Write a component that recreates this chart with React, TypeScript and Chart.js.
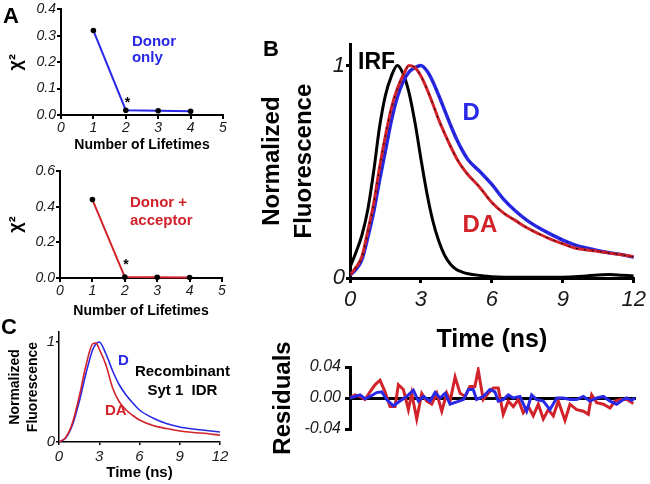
import React, { useEffect, useRef } from 'react';
import { Chart, registerables } from 'chart.js';

Chart.register(...registerables);

// ---------------- DATA ----------------
// Panel A
const lifetimes = [1, 2, 3, 4];
const chiDonorOnly = [0.32, 0.018, 0.016, 0.014];
const chiDonorAcceptor = [0.44, 0.005, 0.004, 0.003];
const chiTopTicks = [0, 0.1, 0.2, 0.3, 0.4];
const chiBottomTicks = [0, 0.2, 0.4, 0.6];

// Panel B (decay curves)
const bTime = [0, 0.25, 0.5, 0.75, 1, 1.25, 1.5, 1.75, 2, 2.25, 2.5, 2.75, 3, 3.25, 3.5, 3.75, 4, 4.25, 4.5, 4.75, 5, 5.5, 6, 6.5, 7, 7.5, 8, 8.5, 9, 9.5, 10, 10.5, 11, 11.5, 12];
const bIRF = [0.05, 0.12, 0.2, 0.32, 0.5, 0.71, 0.86, 0.95, 1.0, 0.96, 0.87, 0.73, 0.56, 0.4, 0.27, 0.175, 0.107, 0.065, 0.04, 0.028, 0.02, 0.012, 0.006, 0.004, 0.004, 0.004, 0.003, 0.003, 0.004, 0.006, 0.01, 0.014, 0.016, 0.013, 0.01];
const bDonor = [0.014, 0.04, 0.085, 0.19, 0.31, 0.46, 0.6, 0.74, 0.85, 0.925, 0.97, 0.99, 1.0, 0.975, 0.925, 0.86, 0.79, 0.72, 0.655, 0.6, 0.555, 0.5, 0.44, 0.37, 0.315, 0.27, 0.235, 0.205, 0.178, 0.156, 0.141, 0.128, 0.118, 0.11, 0.097];
const bDonorAcceptor = [0.014, 0.05, 0.1, 0.22, 0.35, 0.52, 0.67, 0.8, 0.89, 0.955, 1.0, 0.99, 0.95, 0.89, 0.82, 0.745, 0.68, 0.62, 0.565, 0.52, 0.485, 0.425, 0.355, 0.305, 0.27, 0.235, 0.207, 0.182, 0.161, 0.141, 0.132, 0.125, 0.117, 0.109, 0.1];
const timeTicks = [0, 3, 6, 9, 12];
const normTicks = [0, 1];

// Panel B (residuals)
const resDATime = [0, 0.21, 0.42, 0.63, 0.84, 1.05, 1.26, 1.47, 1.68, 1.89, 2.03, 2.24, 2.45, 2.59, 2.8, 3.01, 3.22, 3.43, 3.64, 3.85, 4.06, 4.2, 4.41, 4.62, 4.83, 5.03, 5.24, 5.38, 5.59, 5.8, 6.01, 6.22, 6.43, 6.64, 6.85, 7.06, 7.27, 7.48, 7.69, 7.9, 8.11, 8.32, 8.53, 8.74, 9.02, 9.23, 9.51, 9.79, 10.0, 10.14, 10.35, 10.63, 10.91, 11.12, 11.33, 11.61, 11.89];
const resDAValues = [0, 0.004, 0.002, -0.002, 0.008, 0.017, 0.023, 0.008, -0.011, -0.011, 0.017, 0.011, -0.015, 0.006, -0.027, 0.006, -0.004, -0.008, 0.006, -0.017, 0.006, -0.004, 0.027, 0.006, 0.002, 0.015, 0.015, 0.036, -0.002, 0.006, 0.013, 0.013, -0.021, -0.004, -0.011, -0.002, -0.019, -0.011, -0.023, -0.008, -0.027, -0.015, -0.023, -0.004, -0.029, -0.008, -0.015, -0.017, -0.021, 0.004, -0.006, -0.008, -0.013, -0.004, -0.002, -0.002, -0.007];
const resDTime = [0, 0.21, 0.42, 0.63, 0.84, 1.12, 1.33, 1.54, 1.82, 2.1, 2.38, 2.66, 2.87, 3.08, 3.36, 3.57, 3.78, 3.99, 4.2, 4.48, 4.76, 4.97, 5.17, 5.31, 5.59, 5.87, 6.08, 6.22, 6.43, 6.64, 6.85, 7.13, 7.41, 7.62, 7.83, 8.11, 8.39, 8.67, 8.95, 9.23, 9.51, 9.79, 10.07, 10.35, 10.63, 10.91, 11.19, 11.47, 11.61, 11.82, 11.96];
const resDValues = [0, 0.002, 0.004, -0.001, 0.002, 0.007, 0.008, -0.002, -0.01, -0.004, 0.002, 0.01, -0.004, 0.002, -0.004, 0.007, 0, 0.006, -0.008, -0.005, -0.002, 0.011, 0.011, -0.002, 0.002, 0.011, 0.008, -0.004, -0.002, 0.004, 0, 0.002, -0.017, 0.004, -0.002, -0.004, -0.015, 0, 0, -0.002, -0.002, 0.002, -0.004, 0, 0.002, -0.004, -0.008, -0.002, 0, -0.003, 0];
const residualTicks = [-0.04, 0, 0.04];

// Panel C
const cTime = [0, 0.5, 1, 1.5, 2, 2.5, 2.75, 3, 3.5, 4, 4.5, 5, 5.5, 6, 7, 8, 9, 10, 11, 12];
const cDonor = [0, 0.04, 0.17, 0.4, 0.68, 0.92, 0.98, 1.0, 0.88, 0.71, 0.57, 0.47, 0.39, 0.32, 0.24, 0.185, 0.15, 0.13, 0.115, 0.1];
const cDonorAcceptor = [0, 0.045, 0.19, 0.45, 0.76, 0.98, 0.99, 0.93, 0.77, 0.54, 0.4, 0.32, 0.265, 0.22, 0.165, 0.135, 0.11, 0.095, 0.085, 0.068];

// ---------------- STYLE ----------------
const FONT = "'Liberation Sans', Arial, Helvetica, sans-serif";
const BLUE = '#2828e6';
const RED = '#d2222a';
const TICK_COLOR = '#1a1a1a';

const pts = (xs: number[], ys: number[]) => xs.map((x, i) => ({ x, y: ys[i] }));

type Label = { text: string; x: number; y: number; color: string; size: number; align?: CanvasTextAlign };

// Annotation anchors (data coordinates)
const aTopLabels: Label[] = [
  { text: 'Donor', x: 2.19, y: 0.278, color: BLUE, size: 15 },
  { text: 'only', x: 2.19, y: 0.218, color: BLUE, size: 15 },
  { text: '*', x: 2.05, y: 0.046, color: '#000', size: 14, align: 'center' },
];
const aBottomLabels: Label[] = [
  { text: 'Donor +', x: 2.16, y: 0.42, color: RED, size: 15 },
  { text: 'acceptor', x: 2.16, y: 0.32, color: RED, size: 15 },
  { text: '*', x: 2.04, y: 0.07, color: '#000', size: 14, align: 'center' },
];
const cLabels: Label[] = [
  { text: 'D', x: 4.4, y: 0.816, color: BLUE, size: 15 },
  { text: 'DA', x: 3.43, y: 0.31, color: RED, size: 15 },
  { text: 'Recombinant', x: 9.2, y: 0.7, color: '#000', size: 15, align: 'center' },
  { text: 'Syt 1  IDR', x: 9.2, y: 0.51, color: '#000', size: 15, align: 'center' },
];
const bLabels: Label[] = [
  { text: 'IRF', x: 0.34, y: 1.014, color: '#000', size: 23 },
  { text: 'D', x: 4.76, y: 0.773, color: BLUE, size: 24 },
  { text: 'DA', x: 4.76, y: 0.248, color: RED, size: 24 },
];

function labelPlugin(items: Label[]) {
  return {
    id: 'textLabels',
    afterDatasetsDraw(chart: any) {
      const { ctx } = chart;
      const xs = chart.scales.x;
      const ys = chart.scales.y;
      items.forEach((it) => {
        ctx.save();
        ctx.font = `bold ${it.size}px ${FONT}`;
        ctx.fillStyle = it.color;
        ctx.textAlign = it.align || 'left';
        ctx.textBaseline = 'middle';
        ctx.fillText(it.text, xs.getPixelForValue(it.x), ys.getPixelForValue(it.y));
        ctx.restore();
      });
    },
  };
}

function makeAxis(o: any) {
  return {
    type: 'linear',
    display: o.display === undefined ? true : o.display,
    min: o.min,
    max: o.max,
    afterFit: (s: any) => {
      if (s.isHorizontal()) s.height = o.size;
      else s.width = o.size;
    },
    afterBuildTicks: (s: any) => {
      if (o.tickValues) s.ticks = o.tickValues.map((v: number) => ({ value: v }));
    },
    ticks: {
      autoSkip: false,
      maxRotation: 0,
      font: { family: FONT, size: o.tickSize, style: 'italic' },
      color: TICK_COLOR,
      padding: o.tickPad,
      callback: (v: number) => (o.fmt ? o.fmt(v) : String(v)),
    },
    grid: {
      drawOnChartArea: !!o.zeroLine,
      color: o.zeroLine
        ? (c: any) => (c.tick && Math.abs(c.tick.value) < 1e-9 ? '#000' : 'rgba(0,0,0,0)')
        : '#000',
      lineWidth: o.zeroLine ? o.zeroLine : o.lw,
      tickColor: '#000',
      tickLength: o.tickLen,
      tickWidth: o.lw,
    },
    border: { color: '#000', width: o.lw },
    title: o.title
      ? {
          display: true,
          text: o.title,
          color: '#000',
          font: { family: FONT, size: o.titleSize, weight: 'bold', lineHeight: o.titleLH || 1.2 },
          padding: o.titlePad,
        }
      : { display: false },
  };
}

function baseOptions(padding: any, x: any, y: any) {
  return {
    responsive: false,
    maintainAspectRatio: false,
    animation: false,
    layout: { padding },
    plugins: { legend: { display: false }, tooltip: { enabled: false } },
    scales: { x, y },
  };
}

const fixed1 = (v: number) => v.toFixed(1);
const fixed2 = (v: number) => v.toFixed(2);

function configATop() {
  return {
    type: 'line',
    data: {
      datasets: [
        {
          data: pts(lifetimes, chiDonorOnly),
          borderColor: BLUE,
          borderWidth: 2,
          pointRadius: 2.8,
          pointBackgroundColor: '#000',
          pointBorderColor: '#000',
          pointBorderWidth: 0,
          clip: false,
        },
      ],
    },
    options: baseOptions(
      { top: 7, right: 27, left: 0, bottom: 0 },
      makeAxis({ min: 0, max: 5, size: 40, tickValues: [0, 1, 2, 3, 4, 5], tickSize: 14, tickPad: 1, tickLen: 4, lw: 2, title: 'Number of Lifetimes', titleSize: 14, titlePad: { top: 0, bottom: 1 } }),
      makeAxis({ min: 0, max: 0.4, size: 61, tickValues: chiTopTicks, fmt: fixed1, tickSize: 14, tickPad: 1, tickLen: 4, lw: 2, title: 'χ²', titleSize: 18, titlePad: { top: 5, bottom: 0 } })
    ),
    plugins: [labelPlugin(aTopLabels)],
  };
}

function configABottom() {
  return {
    type: 'line',
    data: {
      datasets: [
        {
          data: pts(lifetimes, chiDonorAcceptor),
          borderColor: RED,
          borderWidth: 2,
          pointRadius: 2.8,
          pointBackgroundColor: '#000',
          pointBorderColor: '#000',
          pointBorderWidth: 0,
          clip: false,
        },
      ],
    },
    options: baseOptions(
      { top: 16, right: 28, left: 0, bottom: 0 },
      makeAxis({ min: 0, max: 5, size: 42, tickValues: [0, 1, 2, 3, 4, 5], tickSize: 14, tickPad: 1, tickLen: 4, lw: 2, title: 'Number of Lifetimes', titleSize: 14, titlePad: { top: 0, bottom: 0 } }),
      makeAxis({ min: 0, max: 0.6, size: 60, tickValues: chiBottomTicks, fmt: fixed1, tickSize: 14, tickPad: 1, tickLen: 4, lw: 2, title: 'χ²', titleSize: 18, titlePad: { top: 5, bottom: 0 } })
    ),
    plugins: [labelPlugin(aBottomLabels)],
  };
}

function configC() {
  return {
    type: 'line',
    data: {
      datasets: [
        { data: pts(cTime, cDonorAcceptor), borderColor: RED, borderWidth: 1.6, pointRadius: 0, cubicInterpolationMode: 'monotone' },
        { data: pts(cTime, cDonor), borderColor: BLUE, borderWidth: 1.6, pointRadius: 0, cubicInterpolationMode: 'monotone' },
      ],
    },
    options: baseOptions(
      { top: 12, right: 30, left: 0, bottom: 0 },
      makeAxis({ min: 0, max: 12, size: 42, tickValues: timeTicks, tickSize: 15, tickPad: 3, tickLen: 3, lw: 1.5, title: 'Time (ns)', titleSize: 15, titlePad: { top: 0, bottom: 2 } }),
      makeAxis({ min: 0, max: 1.1, size: 59, tickValues: normTicks, tickSize: 15, tickPad: 1, tickLen: 3, lw: 1.5, title: ['Normalized', 'Fluorescence'], titleSize: 14, titleLH: 1.28, titlePad: { top: 6, bottom: 0 } })
    ),
    plugins: [labelPlugin(cLabels)],
  };
}

function configB() {
  return {
    type: 'line',
    data: {
      datasets: [
        { data: pts(bTime, bDonorAcceptor), borderColor: '#000', borderWidth: 1, borderDash: [2, 6], pointRadius: 0, cubicInterpolationMode: 'monotone' },
        { data: pts(bTime, bDonor), borderColor: 'rgba(0,0,0,0.6)', borderWidth: 0.8, borderDash: [2, 6], pointRadius: 0, cubicInterpolationMode: 'monotone' },
        { data: pts(bTime, bDonorAcceptor), borderColor: RED, borderWidth: 3, pointRadius: 0, cubicInterpolationMode: 'monotone' },
        { data: pts(bTime, bDonor), borderColor: BLUE, borderWidth: 3.5, pointRadius: 0, cubicInterpolationMode: 'monotone' },
        { data: pts(bTime, bIRF), borderColor: '#000', borderWidth: 3, pointRadius: 0, cubicInterpolationMode: 'monotone' },
      ],
    },
    options: baseOptions(
      { top: 12, right: 14, left: 0, bottom: 0 },
      makeAxis({ min: 0, max: 12, size: 82, tickValues: timeTicks, tickSize: 22, tickPad: 4, tickLen: 5, lw: 3, title: 'Time (ns)', titleSize: 25, titlePad: { top: 0, bottom: 5 } }),
      makeAxis({ min: 0, max: 1.1, size: 100, tickValues: normTicks, tickSize: 22, tickPad: 1, tickLen: 4, lw: 3, title: ['Normalized', 'Fluorescence'], titleSize: 24, titleLH: 1.35, titlePad: { top: 6, bottom: 0 } })
    ),
    plugins: [labelPlugin(bLabels)],
  };
}

function configResiduals() {
  return {
    type: 'line',
    data: {
      datasets: [
        { data: pts(resDTime, resDValues), borderColor: BLUE, borderWidth: 3, pointRadius: 0, tension: 0 },
        { data: pts(resDATime, resDAValues), borderColor: RED, borderWidth: 3, pointRadius: 0, tension: 0 },
      ],
    },
    options: baseOptions(
      { top: 32, right: 14, left: 0, bottom: 55 },
      { type: 'linear', display: false, min: 0, max: 12 },
      makeAxis({ min: -0.04, max: 0.04, size: 100, tickValues: residualTicks, fmt: fixed2, tickSize: 16, tickPad: 4, tickLen: 5, lw: 3, zeroLine: 3, title: 'Residuals', titleSize: 24, titlePad: { top: 19, bottom: 0 } })
    ),
    plugins: [],
  };
}

function ChartBox(props: { left: number; top: number; width: number; height: number; make: () => any }) {
  const ref = useRef<HTMLCanvasElement | null>(null);
  useEffect(() => {
    if (!ref.current) return;
    const chart = new Chart(ref.current, props.make());
    return () => chart.destroy();
  }, []);
  return (
    <canvas
      ref={ref}
      width={props.width}
      height={props.height}
      style={{ position: 'absolute', left: props.left, top: props.top, width: props.width, height: props.height }}
    />
  );
}

const letterStyle = (left: number, top: number): React.CSSProperties => ({
  position: 'absolute',
  left,
  top,
  fontFamily: FONT,
  fontWeight: 'bold',
  fontSize: 22,
  lineHeight: '22px',
  color: '#000',
});

export default function App() {
  return (
    <div style={{ position: 'absolute', left: 0, top: 0, width: 650, height: 484, background: '#fff', overflow: 'hidden' }}>
      <ChartBox left={0} top={0} width={250} height={155} make={configATop} />
      <ChartBox left={0} top={155} width={250} height={165} make={configABottom} />
      <ChartBox left={0} top={320} width={250} height={164} make={configC} />
      <ChartBox left={250} top={30} width={400} height={330} make={configB} />
      <ChartBox left={250} top={335} width={400} height={149} make={configResiduals} />
      <div style={letterStyle(3, 4.5)}>A</div>
      <div style={letterStyle(263, 37.5)}>B</div>
      <div style={letterStyle(1, 316)}>C</div>
    </div>
  );
}
